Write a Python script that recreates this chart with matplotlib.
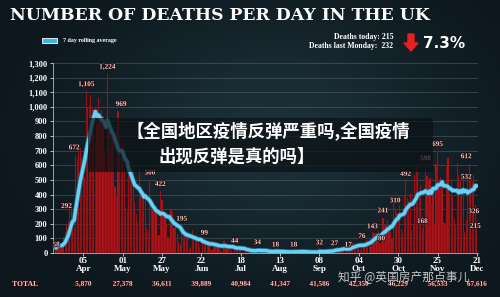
import numpy as np
import pandas as pd
import matplotlib
matplotlib.use("Agg")
import matplotlib.pyplot as plt
import matplotlib.patheffects as pe
from matplotlib.patches import Rectangle, FancyArrow

# daily deaths reported, 18 Mar - 21 Dec 2020
start_date = "2020-03-18"
daily_deaths = [
    35, 58, 60, 55, 48, 110, 145, 190, 220, 292, 320, 230, 180, 672,
    640, 690, 720, 650, 560,
    520, 1105, 1000, 1010, 1080, 1000, 820, 760, 880, 1060, 900, 980, 940, 700,
    560, 1224, 860, 700, 800, 820, 450, 390, 969, 760, 720, 760,
    560, 315, 290, 620, 600, 520, 560, 350, 270, 210, 580, 460, 430, 385,
    400, 170, 160, 500, 330, 300, 300, 280, 120, 120, 422, 360,
    280, 250, 200, 110, 110, 300, 280, 170, 220, 130, 75, 55, 195, 150,
    120, 150, 120, 35, 38, 160, 120, 100, 110, 90, 40, 15,
    80, 99, 70, 85, 60, 25, 20, 70, 75, 60, 55, 50, 15, 10, 80, 70,
    40, 45, 45, 12, 10, 44, 50, 35, 40, 35,
    10, 8, 25, 20, 22, 20, 18, 6, 5, 20, 34, 25, 15, 15, 5, 4, 18,
    15, 12, 10, 10, 4, 18, 14, 10, 12,
    8, 10, 3, 2, 12, 10, 8, 9, 18, 2, 3, 12, 16, 12, 9, 12, 1, 1, 3,
    10, 12, 10, 6, 2, 3, 32,
    8, 14, 6, 9, 5, 9, 27, 20, 21, 27, 27, 18, 11, 37, 37, 40, 34, 17,
    17, 13, 71, 71, 66, 59, 49, 33,
    19, 76, 70, 77, 87, 81, 65, 50, 143, 137, 138, 136, 150, 67, 80, 241,
    191, 189, 224, 174, 151, 102, 367, 310, 280, 274,
    326, 162, 136, 397, 492, 378, 355, 413, 156, 194, 532, 595, 563, 376,
    462, 168, 213, 598, 529, 501, 511, 341, 398, 206, 608, 695,
    498, 521, 479, 215, 205, 603, 648, 414, 504, 397, 231, 189, 616, 533,
    516, 424, 519, 144, 232, 506, 612, 532, 489, 534, 326, 215,
]
dates = pd.date_range(start_date, periods=len(daily_deaths), freq="D")
deaths = pd.Series(daily_deaths, index=dates)
rolling = deaths.rolling(7, min_periods=1).mean()

# labelled days and their label offsets (dx days, dy deaths)
label_days = ["2020-03-19", "2020-03-27", "2020-03-31", "2020-04-07", "2020-04-21",
              "2020-04-28", "2020-05-19", "2020-05-26", "2020-06-09", "2020-06-24",
              "2020-07-14", "2020-07-29", "2020-08-10", "2020-08-22", "2020-09-08",
              "2020-09-18", "2020-09-27", "2020-10-06", "2020-10-13", "2020-10-19",
              "2020-10-20", "2020-10-28", "2020-11-04", "2020-11-15", "2020-11-17",
              "2020-11-25", "2020-12-16", "2020-12-17", "2020-12-20", "2020-12-21"]
label_shift = [(-1, -20), (-2, 10), (-1, 30), (0, 30), (0, 30),
               (2, 30), (0, 30), (0, 30), (0, 20), (0, 20),
               (0, 20), (0, 20), (0, 20), (0, 20), (0, 20),
               (0, 20), (0, 20), (0, 20), (0, 20), (0, 0),
               (0, 30), (0, 30), (0, 30), (0, 30), (0, 30),
               (0, 30), (-2, 30), (-3, -30), (-1, -60), (-1, -50)]

tick_dates = pd.date_range("2020-04-05", periods=11, freq="26D")
totals = ["5,870", "27,378", "36,611", "39,889", "40,984", "41,347",
          "41,586", "42,350", "46,229", "56,533", "67,616"]
y_ticks = list(range(0, 1301, 100))

bg = "#111e25"
txt_pink = "#e8c9cc"
outline = [pe.withStroke(linewidth=1.2, foreground="#2a0d10")]

fig = plt.figure(figsize=(5, 2.97), dpi=100, facecolor=bg)

# background with a soft glow
bg_ax = fig.add_axes([0, 0, 1, 1], zorder=-10)
yy, xx = np.mgrid[0:1:200j, 0:1:300j]
glow = np.exp(-((xx - 0.55) ** 2 / 0.15 + (yy - 0.45) ** 2 / 0.2))
bg_ax.imshow(glow, cmap=matplotlib.colors.LinearSegmentedColormap.from_list(
    "bg", ["#0c161c", "#1c3038"]), aspect="auto", extent=[0, 1, 0, 1])
bg_ax.set_axis_off()

ax = fig.add_axes([0.106, 0.148, 0.85, 0.64])
ax.set_facecolor("none")
x_left = pd.Timestamp("2020-03-16")
x_right = pd.Timestamp("2020-12-21 18:00")
ax.set_xlim(x_left, x_right)
ax.set_ylim(0, 1300)

ax.bar(deaths.index, deaths.values, width=0.8, color="#bf171d",
       edgecolor="#5a080c", linewidth=0.25, zorder=2)
ax.plot(rolling.index, rolling.values, color="#6cd0f2", lw=2.4, zorder=4,
        solid_capstyle="round",
        path_effects=[pe.Stroke(linewidth=3.6, foreground="#1d6f8f"), pe.Normal()])

for d, (dx, dy) in zip(label_days, label_shift):
    v = deaths[pd.Timestamp(d)]
    ax.text(pd.Timestamp(d) + pd.Timedelta(days=dx), v + dy, f"{v:,}",
            ha="center", va="bottom", fontsize=5.2, color=txt_pink,
            family="Liberation Serif", fontweight="bold",
            path_effects=outline, zorder=6)

ax.set_yticks(y_ticks)
ax.set_yticklabels([f"{v:,}" for v in y_ticks])
ax.grid(axis="y", color="#6b7a80", lw=0.4, alpha=0.7, zorder=0)
ax.set_xticks(tick_dates)
ax.set_xticklabels([f"{d.day:02d}\n{d.strftime('%b')}" for d in tick_dates])
ax.tick_params(axis="y", colors="white", labelsize=6, length=2, width=0.5, pad=2)
ax.tick_params(axis="x", colors="white", labelsize=6.5, length=2, width=0.5, pad=1)
for lab in ax.get_yticklabels() + ax.get_xticklabels():
    lab.set_fontweight("bold")
    lab.set_family("Liberation Serif")
for lab in ax.get_xticklabels():
    lab.set_linespacing(1.0)
for s in ["top", "right"]:
    ax.spines[s].set_visible(False)
for s in ["left", "bottom"]:
    ax.spines[s].set_color("#b0b8bb")
    ax.spines[s].set_linewidth(0.6)

# totals row
fig.text(25 / 500, 1 - 284 / 297, "TOTAL", color=txt_pink, fontsize=5.5,
         ha="center", va="center", family="Liberation Serif", fontweight="bold",
         path_effects=outline)
for d, t in zip(tick_dates, totals):
    ax.annotate(t, xy=(d, 0), xycoords=("data", "axes fraction"),
                xytext=(0, -22.5), textcoords="offset points", ha="center", va="center",
                color=txt_pink, fontsize=5.2, family="Liberation Serif",
                fontweight="bold", path_effects=outline, annotation_clip=False)

# title and header
fig.text(10 / 500, 1 - 16 / 297, "NUMBER OF DEATHS PER DAY IN THE UK", color="white",
         fontsize=12.4, fontweight="bold", family="DejaVu Serif", va="center", ha="left")
fig.patches.append(Rectangle((42 / 500, 1 - 43 / 297), 15 / 500, 5 / 297,
                             transform=fig.transFigure, facecolor="#3ab4e0",
                             edgecolor="white", linewidth=0.6))
fig.text(63 / 500, 1 - 40.5 / 297, "7 day rolling average", color="white", fontsize=4.3,
         fontweight="bold", family="Liberation Serif", va="center")
fig.text(393 / 500, 1 - 37 / 297, "Deaths today: 215", color="white", fontsize=5.6,
         fontweight="bold", family="Liberation Serif", ha="right", va="center")
fig.text(393 / 500, 1 - 46 / 297, "Deaths last Monday:  232", color="white", fontsize=5.6,
         fontweight="bold", family="Liberation Serif", ha="right", va="center")
fig.patches.append(FancyArrow(411 / 500, 1 - 34 / 297, 0, -17 / 297, width=6 / 500,
                              head_width=14 / 500, head_length=8 / 297,
                              length_includes_head=True, transform=fig.transFigure,
                              color="#e5211d"))
fig.text(423 / 500, 1 - 43 / 297, "7.3%", color="white", fontsize=11,
         family="Liberation Sans Narrow", fontweight="bold", va="center", ha="left")

# overlay banner and watermark
fig.patches.append(Rectangle((88 / 500, 1 - 172 / 297), 345 / 500, 54 / 297,
                             transform=fig.transFigure, facecolor="#0b1114",
                             alpha=0.7, edgecolor="none", zorder=8))
fig.text(268 / 500, 1 - 132 / 297, "【全国地区疫情反弹严重吗,全国疫情", color="white",
         fontsize=12.5, fontweight="bold", family=["Noto Sans CJK SC", "DejaVu Sans"],
         ha="center", va="center", zorder=9)
fig.text(237 / 500, 1 - 157 / 297, "出现反弹是真的吗】", color="white",
         fontsize=12.5, fontweight="bold", family=["Noto Sans CJK SC", "DejaVu Sans"],
         ha="center", va="center", zorder=9)
fig.text(404 / 500, 1 - 277 / 297, "知乎 @英国房产那点事儿", color="white", alpha=0.75,
         fontsize=8.5, family=["Noto Sans CJK SC", "DejaVu Sans"],
         ha="center", va="center", zorder=9)

fig.savefig("out.png", dpi=100, facecolor=bg)
